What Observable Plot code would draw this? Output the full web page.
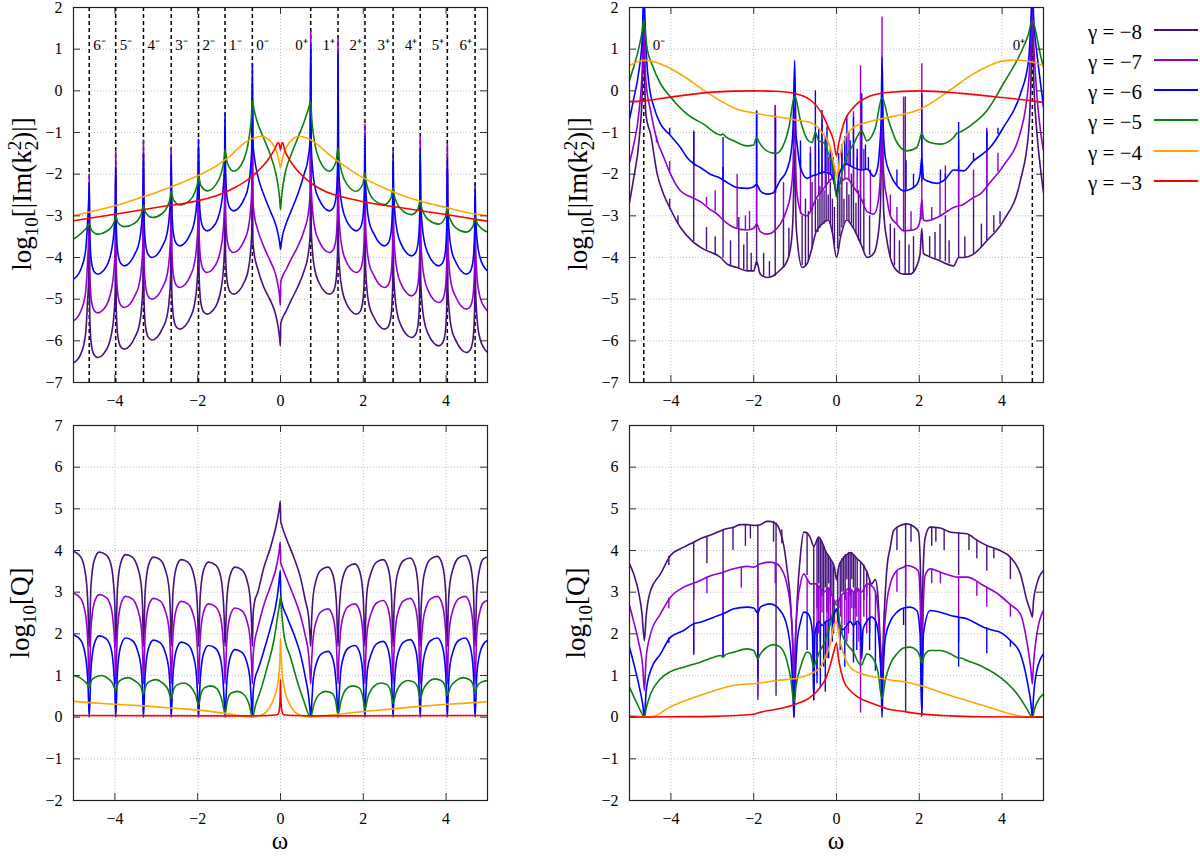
<!DOCTYPE html>
<html><head><meta charset="utf-8">
<script src="https://cdn.jsdelivr.net/npm/d3@7"></script>
<script src="https://cdn.jsdelivr.net/npm/@observablehq/plot@0.6"></script>
<style>
body{margin:0;background:#fff;}
#wrap{position:relative;width:1200px;height:856px;overflow:hidden;font-family:"Liberation Serif","Times New Roman",serif;}
.pnl{position:absolute;}
</style></head><body><div id="wrap"></div>
<script>
// ---------- categories / ticks ----------
const gammas = [-8,-7,-6,-5,-4,-3];
const gammaColors = ["#47107e","#9400d3","#0000ff","#0c800c","#ffa500","#ff0000"];
const xTicks = [-4,-2,0,2,4];
const yTicksIm = [-7,-6,-5,-4,-3,-2,-1,0,1,2];
const yTicksQ = [-2,-1,0,1,2,3,4,5,6,7];
const tlRes = [-4.62,-3.98,-3.31,-2.64,-1.98,-1.34,-0.68,0.73,1.39,2.04,2.72,3.375,4.03,4.70];
const tlResLabels = ["6⁻","5⁻","4⁻","3⁻","2⁻","1⁻","0⁻","0⁺","1⁺","2⁺","3⁺","4⁺","5⁺","6⁺"];
const trRes = [-4.655,4.73];
const trResLabels = ["0⁻","0⁺"];
const resLabelY = 1.1;

// ---------- top-left: log10|Im k2| ----------
const tl_m8 = [[-5,-6.53],[-4.83,-6.33],[-4.71,-5.85],[-4.66,-5.05],[-4.632,-4.4],[-4.62,-2.6],
[-4.608,-5.4],[-4.57,-6.08],[-4.5,-6.34],[-4.41,-6.4],[-4.28,-6.32],[-4.16,-6.12],[-4.08,-5.82],[-4.025,-5.4],[-3.992,-4.8],[-3.98,-2.1],
[-3.968,-5.2],[-3.93,-5.88],[-3.86,-6.14],[-3.77,-6.2],[-3.64,-6.12],[-3.52,-5.92],[-3.41,-5.62],[-3.355,-5.2],[-3.322,-4.6],[-3.31,-1.9],
[-3.298,-4.98],[-3.26,-5.66],[-3.19,-5.92],[-3.1,-5.98],[-2.97,-5.9],[-2.85,-5.7],[-2.74,-5.4],[-2.685,-4.98],[-2.652,-4.38],[-2.64,-1.9],
[-2.628,-4.72],[-2.59,-5.4],[-2.52,-5.66],[-2.43,-5.72],[-2.3,-5.64],[-2.18,-5.44],[-2.08,-5.14],[-2.025,-4.72],[-1.992,-4.12],[-1.98,-1.7],
[-1.968,-4.36],[-1.93,-5.04],[-1.86,-5.3],[-1.77,-5.36],[-1.64,-5.28],[-1.52,-5.08],[-1.44,-4.78],[-1.385,-4.36],[-1.352,-3.76],[-1.34,-1.2],
[-1.328,-3.88],[-1.29,-4.56],[-1.22,-4.82],[-1.13,-4.88],[-1.0,-4.8],[-0.88,-4.6],[-0.78,-4.3],[-0.725,-3.88],[-0.692,-3.28],[-0.68,-0.2],
[-0.668,-3.6],[-0.63,-3.95],[-0.56,-4.24],[-0.4,-4.72],[-0.24,-5.04],[-0.12,-5.36],[-0.055,-5.68],[-0.02,-5.95],[-0.003,-6.12],[0.005,-5.6],[0.03,-5.5],[0.13,-5.3],[0.25,-5.04],[0.41,-4.72],[0.57,-4.32],[0.67,-3.92],[0.718,-3.4],[0.73,0.6],
[0.742,-3.28],[0.775,-3.88],[0.83,-4.3],[0.93,-4.6],[1.05,-4.8],[1.18,-4.88],[1.27,-4.82],[1.34,-4.56],[1.378,-3.88],[1.39,0.4],
[1.402,-3.76],[1.435,-4.36],[1.49,-4.78],[1.58,-5.08],[1.7,-5.28],[1.83,-5.36],[1.92,-5.3],[1.99,-5.04],[2.028,-4.36],[2.04,-1.5],
[2.052,-4.12],[2.085,-4.72],[2.14,-5.14],[2.26,-5.44],[2.38,-5.64],[2.51,-5.72],[2.6,-5.66],[2.67,-5.4],[2.708,-4.72],[2.72,-2.0],
[2.732,-4.32],[2.765,-4.92],[2.82,-5.34],[2.915,-5.64],[3.035,-5.84],[3.165,-5.92],[3.255,-5.86],[3.325,-5.6],[3.363,-4.92],[3.375,-1.8],
[3.387,-4.52],[3.42,-5.12],[3.475,-5.54],[3.57,-5.84],[3.69,-6.04],[3.82,-6.12],[3.91,-6.06],[3.98,-5.8],[4.018,-5.12],[4.03,-1.9],
[4.042,-4.68],[4.075,-5.28],[4.13,-5.7],[4.24,-6.0],[4.36,-6.2],[4.49,-6.28],[4.58,-6.22],[4.65,-5.96],[4.688,-5.28],[4.7,-2.8],
[4.712,-4.7],[4.75,-5.5],[4.82,-5.95],[4.9,-6.15],[5,-6.28]];
const tl_m7 = [[-5,-5.52],[-4.83,-5.3],[-4.71,-4.85],[-4.66,-4.1],[-4.632,-3.4],[-4.62,-2.0],
[-4.608,-4.33],[-4.57,-5.01],[-4.5,-5.27],[-4.41,-5.33],[-4.28,-5.25],[-4.16,-5.05],[-4.08,-4.75],[-4.025,-4.33],[-3.992,-3.73],[-3.98,-1.46],
[-3.968,-4.2],[-3.93,-4.88],[-3.86,-5.14],[-3.77,-5.2],[-3.64,-5.12],[-3.52,-4.92],[-3.41,-4.62],[-3.355,-4.2],[-3.322,-3.6],[-3.31,-1.18],
[-3.298,-4.0],[-3.26,-4.68],[-3.19,-4.94],[-3.1,-5.0],[-2.97,-4.92],[-2.85,-4.72],[-2.74,-4.42],[-2.685,-4.0],[-2.652,-3.4],[-2.64,-1.35],
[-2.628,-3.72],[-2.59,-4.4],[-2.52,-4.66],[-2.43,-4.72],[-2.3,-4.64],[-2.18,-4.44],[-2.08,-4.14],[-2.025,-3.72],[-1.992,-3.12],[-1.98,-1.4],
[-1.968,-3.36],[-1.93,-4.04],[-1.86,-4.3],[-1.77,-4.36],[-1.64,-4.28],[-1.52,-4.08],[-1.44,-3.78],[-1.385,-3.36],[-1.352,-2.76],[-1.34,-0.9],
[-1.328,-2.88],[-1.29,-3.56],[-1.22,-3.82],[-1.13,-3.88],[-1.0,-3.8],[-0.88,-3.6],[-0.78,-3.3],[-0.725,-2.88],[-0.692,-2.28],[-0.68,0.2],
[-0.668,-2.6],[-0.63,-3.0],[-0.56,-3.3],[-0.4,-3.75],[-0.24,-4.1],[-0.12,-4.4],[-0.055,-4.7],[-0.02,-4.95],[-0.003,-5.15],[0.005,-4.6],[0.03,-4.5],[0.13,-4.3],[0.25,-4.05],[0.41,-3.75],[0.57,-3.35],[0.67,-2.95],[0.718,-2.4],[0.73,1.45],
[0.742,-2.28],[0.775,-2.88],[0.83,-3.3],[0.93,-3.6],[1.05,-3.8],[1.18,-3.88],[1.27,-3.82],[1.34,-3.56],[1.378,-2.88],[1.39,1.25],
[1.402,-2.76],[1.435,-3.36],[1.49,-3.78],[1.58,-4.08],[1.7,-4.28],[1.83,-4.36],[1.92,-4.3],[1.99,-4.04],[2.028,-3.36],[2.04,-0.8],
[2.052,-3.12],[2.085,-3.72],[2.14,-4.14],[2.26,-4.44],[2.38,-4.64],[2.51,-4.72],[2.6,-4.66],[2.67,-4.4],[2.708,-3.72],[2.72,-1.7],
[2.732,-3.32],[2.765,-3.92],[2.82,-4.34],[2.915,-4.64],[3.035,-4.84],[3.165,-4.92],[3.255,-4.86],[3.325,-4.6],[3.363,-3.92],[3.375,-1.1],
[3.387,-3.48],[3.42,-4.08],[3.475,-4.5],[3.57,-4.8],[3.69,-5.0],[3.82,-5.08],[3.91,-5.02],[3.98,-4.76],[4.018,-4.08],[4.03,-1.28],
[4.042,-3.64],[4.075,-4.24],[4.13,-4.66],[4.24,-4.96],[4.36,-5.16],[4.49,-5.24],[4.58,-5.18],[4.65,-4.92],[4.688,-4.24],[4.7,-2.5],
[4.712,-3.7],[4.75,-4.5],[4.82,-4.95],[4.9,-5.15],[5,-5.28]];
const tl_m6 = [[-5,-4.52],[-4.83,-4.3],[-4.71,-3.85],[-4.66,-3.15],[-4.632,-2.6],[-4.62,-2.2],
[-4.608,-3.4],[-4.57,-4.08],[-4.5,-4.34],[-4.41,-4.4],[-4.28,-4.32],[-4.16,-4.12],[-4.08,-3.82],[-4.025,-3.4],[-3.992,-2.8],[-3.98,-1.84],
[-3.968,-3.2],[-3.93,-3.88],[-3.86,-4.14],[-3.77,-4.2],[-3.64,-4.12],[-3.52,-3.92],[-3.41,-3.62],[-3.355,-3.2],[-3.322,-2.6],[-3.31,-1.5],
[-3.298,-3.0],[-3.26,-3.68],[-3.19,-3.94],[-3.1,-4.0],[-2.97,-3.92],[-2.85,-3.72],[-2.74,-3.42],[-2.685,-3.0],[-2.652,-2.4],[-2.64,-1.55],
[-2.628,-2.72],[-2.59,-3.4],[-2.52,-3.66],[-2.43,-3.72],[-2.3,-3.64],[-2.18,-3.44],[-2.08,-3.14],[-2.025,-2.72],[-1.992,-2.12],[-1.98,-1.15],
[-1.968,-2.36],[-1.93,-3.04],[-1.86,-3.3],[-1.77,-3.36],[-1.64,-3.28],[-1.52,-3.08],[-1.44,-2.78],[-1.385,-2.36],[-1.352,-1.76],[-1.34,-0.55],
[-1.328,-1.88],[-1.29,-2.56],[-1.22,-2.82],[-1.13,-2.88],[-1.0,-2.8],[-0.88,-2.6],[-0.78,-2.3],[-0.725,-1.88],[-0.692,-1.28],[-0.68,0.66],
[-0.668,-1.2],[-0.63,-1.6],[-0.56,-2.0],[-0.4,-2.5],[-0.24,-2.9],[-0.12,-3.2],[-0.055,-3.45],[-0.02,-3.65],[0,-3.8],[0.02,-3.65],[0.055,-3.45],[0.13,-3.2],[0.25,-2.9],[0.41,-2.5],[0.57,-2.0],[0.67,-1.6],[0.718,-1.1],[0.73,1.1],
[0.742,-1.28],[0.775,-1.88],[0.83,-2.3],[0.93,-2.6],[1.05,-2.8],[1.18,-2.88],[1.27,-2.82],[1.34,-2.56],[1.378,-1.88],[1.39,0.9],
[1.402,-1.76],[1.435,-2.36],[1.49,-2.78],[1.58,-3.08],[1.7,-3.28],[1.83,-3.36],[1.92,-3.3],[1.99,-3.04],[2.028,-2.36],[2.04,-1.1],
[2.052,-2.12],[2.085,-2.72],[2.14,-3.14],[2.26,-3.44],[2.38,-3.64],[2.51,-3.72],[2.6,-3.66],[2.67,-3.4],[2.708,-2.72],[2.72,-1.44],
[2.732,-2.36],[2.765,-2.96],[2.82,-3.38],[2.915,-3.68],[3.035,-3.88],[3.165,-3.96],[3.255,-3.9],[3.325,-3.64],[3.363,-2.96],[3.375,-1.4],
[3.387,-2.6],[3.42,-3.2],[3.475,-3.62],[3.57,-3.92],[3.69,-4.12],[3.82,-4.2],[3.91,-4.14],[3.98,-3.88],[4.018,-3.2],[4.03,-1.6],
[4.042,-2.8],[4.075,-3.4],[4.13,-3.82],[4.24,-4.12],[4.36,-4.32],[4.49,-4.4],[4.58,-4.34],[4.65,-4.08],[4.688,-3.4],[4.7,-2.24],
[4.712,-2.9],[4.75,-3.6],[4.82,-4.0],[4.9,-4.2],[5,-4.32]];
const tl_m5 = [[-5,-3.56],[-4.85,-3.45],[-4.72,-3.33],[-4.65,-3.24],[-4.62,-3.19],
[-4.57,-3.34],[-4.41,-3.44],[-4.2,-3.37],[-4.065,-3.24],[-4.005,-3.11],[-3.98,-3.0],
[-3.93,-3.16],[-3.77,-3.26],[-3.53,-3.18],[-3.395,-3.03],[-3.335,-2.87],[-3.31,-2.74],
[-3.26,-2.92],[-3.1,-3.04],[-2.86,-2.95],[-2.725,-2.76],[-2.665,-2.58],[-2.64,-2.42],
[-2.59,-2.61],[-2.43,-2.74],[-2.2,-2.64],[-2.065,-2.43],[-2.005,-2.22],[-1.98,-2.04],
[-1.93,-2.26],[-1.77,-2.4],[-1.56,-2.25],[-1.425,-1.95],[-1.365,-1.66],[-1.34,-1.41],
[-1.29,-1.72],[-1.13,-1.93],[-0.9,-1.68],[-0.765,-1.16],[-0.705,-0.66],[-0.68,-0.23],
[-0.64,-0.45],[-0.56,-0.75],[-0.4,-1.15],[-0.24,-1.55],[-0.12,-1.95],[-0.055,-2.3],[-0.02,-2.6],[0,-2.85],[0.02,-2.6],[0.055,-2.3],[0.13,-1.9],[0.25,-1.55],[0.41,-1.15],[0.57,-0.75],[0.67,-0.45],[0.73,-0.26],
[0.755,-0.68],[0.815,-1.18],[0.95,-1.68],[1.18,-1.93],[1.34,-1.71],[1.39,-1.37],
[1.415,-1.63],[1.475,-1.94],[1.61,-2.25],[1.83,-2.41],[1.99,-2.23],[2.04,-1.97],
[2.065,-2.16],[2.125,-2.39],[2.26,-2.62],[2.51,-2.73],[2.67,-2.57],[2.72,-2.33],
[2.745,-2.49],[2.805,-2.68],[2.94,-2.87],[3.165,-2.97],[3.325,-2.83],[3.375,-2.62],
[3.4,-2.77],[3.46,-2.94],[3.595,-3.11],[3.82,-3.2],[3.98,-3.04],[4.03,-2.8],
[4.055,-2.95],[4.115,-3.12],[4.25,-3.3],[4.49,-3.39],[4.65,-3.25],[4.7,-3.04],
[4.75,-3.18],[4.85,-3.3],[5,-3.39]];
const tl_m4 = [[-5,-3.0],[-4.5,-2.88],[-4,-2.76],[-3.5,-2.6],[-3,-2.44],[-2.5,-2.25],[-2,-2.04],[-1.5,-1.77],[-1.2,-1.55],[-1,-1.36],[-0.8,-1.2],[-0.6,-1.12],[-0.45,-1.09],[-0.3,-1.16],[-0.2,-1.26],[-0.12,-1.4],[-0.06,-1.58],[-0.02,-1.75],[0,-1.85],[0.02,-1.75],[0.06,-1.58],[0.12,-1.4],[0.2,-1.26],[0.3,-1.16],[0.42,-1.09],[0.6,-1.12],[0.8,-1.22],[1,-1.38],[1.2,-1.55],[1.5,-1.77],[2,-2.09],[2.5,-2.33],[3,-2.53],[3.5,-2.68],[4,-2.8],[4.5,-2.92],[5,-3.0]];
const tl_m3 = [[-5,-3.12],[-4,-2.96],[-3,-2.8],[-2,-2.64],[-1.5,-2.5],[-1.1,-2.32],[-0.72,-2.08],[-0.5,-1.88],[-0.32,-1.68],[-0.2,-1.5],[-0.12,-1.36],[-0.06,-1.24],[-0.03,-1.28],[0,-1.42],[0.025,-1.28],[0.05,-1.24],[0.1,-1.42],[0.2,-1.62],[0.3,-1.78],[0.45,-1.96],[0.62,-2.12],[0.8,-2.26],[1.1,-2.42],[1.5,-2.55],[2,-2.66],[3,-2.82],[4,-2.97],[5,-3.13]];

// ---------- top-right: log10|Im k2| ----------
const tr_m8 = [[-5,-2.68],[-4.9,-2.1],[-4.77,-1.2],[-4.69,0.0],[-4.665,1.4],[-4.655,1.9],[-4.645,1.0],[-4.6,-0.6],[-4.49,-1.04],[-4.33,-2.0],[-4.17,-2.5],[-4.03,-2.8],[-3.77,-3.28],[-3.49,-3.6],[-3.21,-3.8],[-2.8,-4.0],[-2.64,-4.16],[-2.4,-4.24],[-2.16,-4.32],[-2.0,-4.32],[-1.93,-4.1],[-1.84,-4.4],[-1.68,-4.48],[-1.55,-4.45],[-1.36,-4.3],[-1.2,-4.1],[-1.1,-3.7],[-1.05,-3.0],[-1.01,-1.4],[-0.98,-3.1],[-0.95,-3.55],[-0.83,-4.24],[-0.71,-4.15],[-0.6,-3.8],[-0.5,-3.4],[-0.35,-3.2],[-0.2,-3.1],[-0.1,-3.4],[0,-4.0],[0.1,-3.5],[0.25,-3.1],[0.41,-3.3],[0.6,-3.7],[0.74,-4.0],[0.9,-3.9],[1.0,-3.5],[1.06,-2.8],[1.1,-1.0],[1.14,-2.9],[1.22,-3.6],[1.3,-4.0],[1.46,-4.32],[1.62,-4.4],[1.78,-4.4],[1.94,-4.2],[2.02,-3.9],[2.06,-3.3],[2.1,-3.9],[2.18,-3.95],[2.43,-4.05],[2.83,-4.2],[2.95,-4.0],[3.07,-4.0],[3.31,-3.92],[3.63,-3.6],[4.03,-3.12],[4.44,-2.16],[4.64,-1.0],[4.7,0.4],[4.73,1.9],[4.76,0.4],[4.84,-1.0],[4.92,-1.8],[5,-2.44]];
const tr_m8_spk = [[-4.03,-2.85,-2.6],[-3.83,-3.2,-3.0],[-3.45,-3.62,-1.0],[-3.14,-3.82,-3.28],[-2.93,-3.95,-3.5],[-2.74,-4.02,-1.84],[-2.56,-4.2,-3.6],[-2.36,-4.25,-3.04],[-2.24,-4.3,-3.7],[-2.16,-4.32,-3.4],[-2.06,-4.32,-3.9],[-1.93,-4.2,-0.5],[-1.76,-4.45,-3.9],[-1.62,-4.47,-4.1],[-1.48,-4.45,-0.35],[-1.28,-4.25,-3.0],[-1.15,-4.0,-3.3],[-0.83,-4.2,-3.0],[-0.75,-4.2,-2.6],[-0.68,-4.1,-2.9],[-0.59,-3.8,-2.2],[-0.51,-3.4,-2.0],[-0.45,-3.4,-2.6],[-0.4,-3.3,-2.3],[-0.35,-3.2,-1.8],[-0.3,-3.2,-2.4],[-0.25,-3.15,-2.0],[-0.2,-3.1,-2.5],[-0.15,-3.2,-2.2],[-0.1,-3.4,-2.6],[-0.05,-3.7,-2.8],[0.03,-3.8,-2.5],[0.08,-3.5,-2.3],[0.13,-3.3,-2.1],[0.18,-3.2,-2.6],[0.25,-3.1,-2.2],[0.3,-3.15,-2.5],[0.36,-3.2,-2.0],[0.41,-3.3,-1.9],[0.47,-3.45,-2.7],[0.53,-3.6,-2.4],[0.58,-3.7,-1.0],[0.66,-3.85,-2.6],[0.8,-3.95,-3.0],[1.3,-4.0,-3.2],[1.4,-4.2,-3.3],[1.52,-4.35,-3.6],[1.66,-4.4,-0.15],[1.75,-4.4,-3.7],[1.86,-4.35,-3.5],[2.25,-3.98,-3.5],[2.38,-4.03,-3.4],[2.5,-4.06,-3.2],[2.63,-4.1,-3.0],[2.72,-4.15,-3.6],[2.95,-4.0,-1.8],[3.1,-4.0,-3.5],[3.31,-3.92,-2.6],[3.5,-3.75,-3.2],[3.63,-3.6,-1.0],[3.8,-3.4,-3.0],[3.95,-3.2,-2.9]];
const tr_m7 = [[-5,-1.72],[-4.9,-1.3],[-4.77,-0.5],[-4.69,0.6],[-4.665,1.6],[-4.655,2.0],[-4.645,1.4],[-4.6,0.2],[-4.49,-0.48],[-4.33,-1.2],[-4.17,-1.6],[-4.03,-1.95],[-3.77,-2.4],[-3.49,-2.56],[-3.29,-2.66],[-3.05,-2.85],[-2.88,-2.96],[-2.8,-3.04],[-2.64,-3.18],[-2.48,-3.28],[-2.16,-3.34],[-2.0,-3.3],[-1.93,-3.2],[-1.84,-3.38],[-1.68,-3.44],[-1.55,-3.4],[-1.36,-3.2],[-1.2,-2.85],[-1.1,-2.4],[-1.05,-1.8],[-1.01,-0.4],[-0.98,-2.0],[-0.95,-2.5],[-0.83,-2.96],[-0.71,-3.0],[-0.63,-2.9],[-0.5,-2.6],[-0.35,-2.4],[-0.2,-2.2],[-0.1,-2.1],[0,-2.4],[0.1,-2.2],[0.25,-2.1],[0.41,-2.3],[0.6,-2.6],[0.74,-2.9],[0.9,-2.96],[1.0,-2.7],[1.06,-2.0],[1.1,-0.6],[1.14,-2.0],[1.22,-2.6],[1.3,-3.0],[1.46,-3.2],[1.62,-3.36],[1.78,-3.35],[1.94,-3.3],[2.02,-3.1],[2.06,-2.6],[2.1,-3.1],[2.18,-3.12],[2.43,-3.04],[2.83,-2.8],[3.07,-2.72],[3.31,-2.56],[3.47,-2.48],[3.71,-2.2],[4.03,-1.8],[4.44,-1.0],[4.64,0.2],[4.7,1.2],[4.73,2.0],[4.76,1.2],[4.84,-0.1],[4.92,-0.9],[5,-1.44]];
const tr_m7_spk = [[-4.35,-1.25,-1.1],[-4.03,-1.95,-1.7],[-3.45,-2.56,-0.96],[-3.14,-2.75,-2.56],[-2.93,-2.9,-2.4],[-2.74,-3.1,-1.84],[-2.4,-3.3,-2.0],[-2.2,-3.34,-3.0],[-2.1,-3.33,-2.9],[-1.93,-3.25,-0.5],[-1.48,-3.42,-0.39],[-1.28,-3.05,-2.2],[-0.87,-2.97,-1.6],[-0.63,-2.9,-1.35],[-0.51,-2.6,-1.0],[-0.43,-2.5,-1.4],[-0.35,-2.4,-0.7],[-0.27,-2.3,-1.2],[-0.19,-2.2,-1.6],[-0.11,-2.1,-1.5],[-0.05,-2.2,-1.8],[0.05,-2.3,-1.9],[0.13,-2.15,-1.5],[0.2,-2.1,-1.3],[0.3,-2.15,-1.0],[0.41,-2.3,-0.5],[0.5,-2.45,-1.6],[0.58,-2.6,0.6],[0.66,-2.75,-1.4],[0.82,-2.95,-1.9],[1.1,-2.0,1.77],[1.3,-3.0,-2.5],[1.46,-3.2,-2.8],[1.62,-3.36,-0.15],[1.8,-3.35,-2.9],[2.06,-3.1,0.65],[2.3,-3.1,-2.8],[2.5,-3.0,-2.2],[2.63,-2.9,-1.8],[2.95,-2.76,-1.2],[3.31,-2.56,-1.9],[3.63,-2.3,-0.9],[3.9,-1.95,-1.5]];
const tr_m6 = [[-5,-0.68],[-4.9,-0.2],[-4.77,0.5],[-4.69,1.3],[-4.665,2.3],[-4.655,2.6],[-4.645,2.3],[-4.6,1.0],[-4.53,0.17],[-4.41,-0.39],[-4.25,-0.8],[-4.03,-1.05],[-3.77,-1.36],[-3.61,-1.6],[-3.45,-1.75],[-3.29,-1.84],[-3.05,-2.0],[-2.84,-2.08],[-2.64,-2.2],[-2.4,-2.32],[-2.16,-2.34],[-2.0,-2.3],[-1.93,-2.25],[-1.84,-2.4],[-1.68,-2.48],[-1.55,-2.46],[-1.36,-2.15],[-1.2,-1.9],[-1.1,-1.5],[-1.05,-0.9],[-1.01,0.73],[-0.98,-1.0],[-0.95,-1.3],[-0.87,-1.84],[-0.71,-2.1],[-0.6,-2.05],[-0.45,-2.0],[-0.3,-1.95],[-0.15,-2.0],[-0.05,-2.2],[0,-2.5],[0.05,-2.1],[0.13,-1.85],[0.25,-1.76],[0.41,-1.84],[0.6,-1.9],[0.74,-1.88],[0.9,-2.05],[0.98,-1.9],[1.04,-1.4],[1.08,-0.6],[1.1,0.81],[1.13,-0.9],[1.18,-1.6],[1.3,-2.0],[1.46,-2.28],[1.62,-2.4],[1.78,-2.36],[1.94,-2.25],[2.02,-2.0],[2.06,-1.6],[2.1,-2.1],[2.18,-2.16],[2.43,-2.22],[2.63,-2.12],[2.83,-1.9],[3.07,-1.92],[3.31,-1.68],[3.55,-1.5],[3.71,-1.36],[4.03,-0.88],[4.44,-0.08],[4.64,0.73],[4.7,1.8],[4.73,2.6],[4.76,1.8],[4.84,0.9],[4.88,0.57],[5,-0.4]];
const tr_m6_spk = [[-4.03,-1.05,-0.9],[-3.45,-1.75,-1.0],[-2.74,-2.12,-1.12],[-1.93,-2.3,-0.48],[-1.47,-2.46,-0.6],[-0.87,-1.9,-1.2],[-0.63,-2.1,-1.5],[-0.51,-2.05,0.0],[-0.43,-2.0,-0.9],[-0.35,-2.0,-0.47],[-0.27,-1.95,-1.1],[-0.23,-1.95,-0.87],[-0.15,-2.0,-1.4],[-0.08,-2.1,-1.6],[0.05,-2.0,-1.5],[0.13,-1.85,-1.3],[0.2,-1.8,-1.1],[0.25,-1.76,-0.6],[0.33,-1.8,-1.2],[0.41,-1.84,-0.63],[0.5,-1.88,-1.4],[0.61,-1.9,-0.07],[0.7,-1.9,-1.3],[0.77,-1.92,-1.6],[1.46,-2.28,-1.9],[1.68,-2.38,-1.68],[1.86,-2.35,-2.0],[2.06,-2.18,-0.08],[2.51,-2.2,-1.9],[2.63,-2.15,-2.0],[2.95,-1.9,-0.76],[3.31,-1.68,-1.5],[3.63,-1.45,-0.96],[3.9,-1.05,-0.9]];
const tr_m5 = [[-5,0.25],[-4.9,0.57],[-4.77,1.05],[-4.69,1.45],[-4.655,1.7],[-4.61,1.3],[-4.57,1.0],[-4.45,0.62],[-4.25,0.17],[-4.01,-0.15],[-3.61,-0.56],[-3.21,-0.8],[-2.8,-1.06],[-2.74,-1.04],[-2.68,-1.1],[-2.48,-1.2],[-2.16,-1.32],[-2.0,-1.3],[-1.93,-1.12],[-1.86,-1.25],[-1.6,-1.48],[-1.44,-1.5],[-1.36,-1.44],[-1.15,-0.88],[-1.01,-0.12],[-0.87,-0.72],[-0.71,-1.16],[-0.59,-1.24],[-0.51,-1.0],[-0.43,-1.2],[-0.31,-1.24],[-0.19,-1.52],[-0.07,-1.92],[0.0,-2.56],[0.09,-2.16],[0.21,-1.68],[0.41,-1.28],[0.61,-0.96],[0.73,-1.2],[0.94,-0.88],[1.1,-0.16],[1.26,-0.72],[1.46,-1.24],[1.7,-1.44],[1.94,-1.36],[2.0,-1.2],[2.06,-1.02],[2.12,-1.15],[2.26,-1.24],[2.51,-1.28],[2.83,-1.12],[2.9,-1.02],[2.95,-1.0],[3.0,-0.98],[3.23,-0.84],[3.63,-0.48],[4.03,0.17],[4.44,0.89],[4.64,1.37],[4.73,1.7],[4.84,1.29],[4.92,0.89],[5,0.57]];
const tr_m4 = [[-5,0.61],[-4.8,0.7],[-4.61,0.73],[-4.41,0.7],[-4,0.53],[-3.6,0.29],[-3.2,0.01],[-2.8,-0.24],[-2.4,-0.44],[-2,-0.53],[-1.6,-0.6],[-1.2,-0.66],[-0.87,-0.72],[-0.63,-0.76],[-0.45,-0.88],[-0.35,-1.0],[-0.15,-1.36],[-0.03,-1.92],[0.01,-2.08],[0.09,-1.52],[0.21,-1.12],[0.41,-0.88],[0.73,-0.76],[1.14,-0.66],[1.54,-0.58],[2.02,-0.44],[2.43,-0.2],[2.83,0.08],[3.23,0.36],[3.63,0.58],[4.03,0.72],[4.36,0.74],[4.72,0.69],[5,0.61]];
const tr_m3 = [[-5,-0.26],[-4.65,-0.24],[-4,-0.15],[-3,-0.03],[-2,0.0],[-1.5,-0.01],[-1.03,-0.06],[-0.63,-0.22],[-0.35,-0.55],[-0.2,-0.87],[-0.07,-1.2],[0,-1.56],[0.05,-1.28],[0.17,-0.8],[0.41,-0.4],[0.73,-0.16],[1.22,-0.04],[2,0.0],[3,-0.06],[4,-0.16],[4.72,-0.24],[5,-0.28]];

// ---------- bottom-left: log10 Q ----------
const bl_m8 = [[-5,3.98],[-4.82,3.84],[-4.7,3.36],[-4.65,2.64],[-4.62,1.7],
[-4.58,3.12],[-4.5,3.76],[-4.38,3.96],[-4.22,3.9],[-4.1,3.68],[-4.04,3.28],[-4.0,2.64],[-3.98,1.7],
[-3.94,3.06],[-3.86,3.7],[-3.74,3.9],[-3.58,3.84],[-3.46,3.62],[-3.37,3.22],[-3.33,2.58],[-3.31,1.7],
[-3.27,3.0],[-3.19,3.64],[-3.07,3.84],[-2.91,3.78],[-2.79,3.56],[-2.7,3.16],[-2.66,2.52],[-2.64,1.7],
[-2.6,2.94],[-2.52,3.58],[-2.4,3.78],[-2.24,3.72],[-2.12,3.5],[-2.04,3.1],[-2.0,2.46],[-1.98,1.7],
[-1.94,2.88],[-1.86,3.52],[-1.74,3.72],[-1.58,3.66],[-1.46,3.44],[-1.4,3.04],[-1.36,2.4],[-1.34,1.7],
[-1.3,2.76],[-1.22,3.4],[-1.1,3.6],[-0.94,3.54],[-0.82,3.32],[-0.74,2.92],[-0.7,2.28],[-0.68,1.7],
[-0.66,2.5],[-0.62,2.8],[-0.56,2.96],[-0.4,3.6],[-0.24,4.08],[-0.08,4.72],[-0.03,5.0],[-0.005,5.18],[0.005,4.7],[0.02,4.64],[0.16,4.24],[0.32,3.84],[0.48,3.36],[0.6,2.8],[0.68,2.4],[0.71,2.0],[0.73,1.7],
[0.75,2.28],[0.79,2.92],[0.87,3.32],[0.99,3.54],[1.15,3.6],[1.27,3.4],[1.35,2.76],[1.39,1.7],
[1.41,2.36],[1.45,3.0],[1.52,3.4],[1.64,3.62],[1.8,3.68],[1.92,3.48],[2.0,2.84],[2.04,1.7],
[2.06,2.46],[2.1,3.1],[2.2,3.5],[2.32,3.72],[2.48,3.78],[2.6,3.58],[2.68,2.94],[2.72,1.7],
[2.74,2.5],[2.78,3.14],[2.855,3.54],[2.975,3.76],[3.135,3.82],[3.255,3.62],[3.335,2.98],[3.375,1.7],
[3.395,2.54],[3.435,3.18],[3.51,3.58],[3.63,3.8],[3.79,3.86],[3.91,3.66],[3.99,3.02],[4.03,1.7],
[4.05,2.56],[4.09,3.2],[4.18,3.6],[4.3,3.82],[4.46,3.88],[4.58,3.68],[4.66,3.04],[4.7,1.7],
[4.74,3.0],[4.82,3.6],[4.9,3.8],[5,3.84]];
const bl_m7 = [[-5,2.98],[-4.82,2.84],[-4.7,2.4],[-4.65,1.7],[-4.62,0.8],
[-4.58,2.1],[-4.5,2.74],[-4.38,2.94],[-4.22,2.88],[-4.1,2.66],[-4.04,2.26],[-4.0,1.62],[-3.98,0.8],
[-3.94,2.06],[-3.86,2.7],[-3.74,2.9],[-3.58,2.84],[-3.46,2.62],[-3.37,2.22],[-3.33,1.58],[-3.31,0.8],
[-3.27,2.01],[-3.19,2.65],[-3.07,2.85],[-2.91,2.79],[-2.79,2.57],[-2.7,2.17],[-2.66,1.53],[-2.64,0.8],
[-2.6,1.94],[-2.52,2.58],[-2.4,2.78],[-2.24,2.72],[-2.12,2.5],[-2.04,2.1],[-2.0,1.46],[-1.98,0.8],
[-1.94,1.88],[-1.86,2.52],[-1.74,2.72],[-1.58,2.66],[-1.46,2.44],[-1.4,2.04],[-1.36,1.4],[-1.34,0.8],
[-1.3,1.78],[-1.22,2.42],[-1.1,2.62],[-0.94,2.56],[-0.82,2.34],[-0.74,1.94],[-0.7,1.3],[-0.68,0.8],
[-0.66,1.5],[-0.62,1.85],[-0.56,2.1],[-0.4,2.7],[-0.24,3.15],[-0.08,3.7],[-0.03,4.0],[-0.005,4.2],[0.005,3.7],[0.02,3.66],[0.16,3.3],[0.32,2.9],[0.48,2.45],[0.6,1.95],[0.68,1.5],[0.71,1.1],[0.73,0.8],
[0.75,1.28],[0.79,1.92],[0.87,2.32],[0.99,2.54],[1.15,2.6],[1.27,2.4],[1.35,1.76],[1.39,0.8],
[1.41,1.4],[1.45,2.04],[1.52,2.44],[1.64,2.66],[1.8,2.72],[1.92,2.52],[2.0,1.88],[2.04,0.8],
[2.06,1.48],[2.1,2.12],[2.2,2.52],[2.32,2.74],[2.48,2.8],[2.6,2.6],[2.68,1.96],[2.72,0.8],
[2.74,1.53],[2.78,2.17],[2.855,2.57],[2.975,2.79],[3.135,2.85],[3.255,2.65],[3.335,2.01],[3.375,0.8],
[3.395,1.58],[3.435,2.22],[3.51,2.62],[3.63,2.84],[3.79,2.9],[3.91,2.7],[3.99,2.06],[4.03,0.8],
[4.05,1.58],[4.09,2.22],[4.18,2.62],[4.3,2.84],[4.46,2.9],[4.58,2.7],[4.66,2.06],[4.7,0.8],
[4.74,2.0],[4.82,2.55],[4.9,2.75],[5,2.8]];
const bl_m6 = [[-5,1.98],[-4.82,1.84],[-4.7,1.4],[-4.65,0.8],[-4.62,0],
[-4.58,1.11],[-4.5,1.75],[-4.38,1.95],[-4.22,1.89],[-4.1,1.67],[-4.04,1.27],[-4.0,0.63],[-3.98,0],
[-3.94,1.06],[-3.86,1.7],[-3.74,1.9],[-3.58,1.84],[-3.46,1.62],[-3.37,1.22],[-3.33,0.58],[-3.31,0],
[-3.27,1.01],[-3.19,1.65],[-3.07,1.85],[-2.91,1.79],[-2.79,1.57],[-2.7,1.17],[-2.66,0.53],[-2.64,0],
[-2.6,0.96],[-2.52,1.6],[-2.4,1.8],[-2.24,1.74],[-2.12,1.52],[-2.04,1.12],[-2.0,0.48],[-1.98,0],
[-1.94,0.88],[-1.86,1.52],[-1.74,1.72],[-1.58,1.66],[-1.46,1.44],[-1.4,1.04],[-1.36,0.4],[-1.34,0],
[-1.3,0.78],[-1.22,1.42],[-1.1,1.62],[-0.94,1.56],[-0.82,1.34],[-0.74,0.94],[-0.7,0.3],[-0.68,0],
[-0.66,0.6],[-0.6,1.0],[-0.56,1.1],[-0.4,1.6],[-0.24,2.16],[-0.08,2.88],[-0.03,3.3],[-0.005,3.52],[0.005,3.0],[0.02,2.8],[0.16,2.4],[0.32,2.0],[0.48,1.52],[0.6,0.96],[0.68,0.5],[0.71,0.2],[0.73,0],
[0.75,0.26],[0.79,0.9],[0.87,1.3],[0.99,1.52],[1.15,1.58],[1.27,1.38],[1.35,0.74],[1.39,0],
[1.41,0.4],[1.45,1.04],[1.52,1.44],[1.64,1.66],[1.8,1.72],[1.92,1.52],[2.0,0.88],[2.04,0],
[2.06,0.5],[2.1,1.14],[2.2,1.54],[2.32,1.76],[2.48,1.82],[2.6,1.62],[2.68,0.98],[2.72,0],
[2.74,0.54],[2.78,1.18],[2.855,1.58],[2.975,1.8],[3.135,1.86],[3.255,1.66],[3.335,1.02],[3.375,0],
[3.395,0.58],[3.435,1.22],[3.51,1.62],[3.63,1.84],[3.79,1.9],[3.91,1.7],[3.99,1.06],[4.03,0],
[4.05,0.58],[4.09,1.22],[4.18,1.62],[4.3,1.84],[4.46,1.9],[4.58,1.7],[4.66,1.06],[4.7,0],
[4.74,1.0],[4.82,1.55],[4.9,1.75],[5,1.84]];
const bl_m5 = [[-5,1.0],[-4.85,0.95],[-4.72,0.85],[-4.65,0.77],[-4.62,0.72],
[-4.56,0.89],[-4.47,0.96],[-4.32,1.0],[-4.17,0.93],[-4.05,0.8],[-3.98,0.64],
[-3.92,0.83],[-3.83,0.91],[-3.68,0.95],[-3.53,0.88],[-3.38,0.74],[-3.31,0.56],
[-3.25,0.76],[-3.16,0.86],[-3.01,0.9],[-2.86,0.83],[-2.71,0.65],[-2.64,0.44],
[-2.58,0.67],[-2.49,0.78],[-2.34,0.82],[-2.19,0.75],[-2.05,0.53],[-1.98,0.3],
[-1.92,0.57],[-1.83,0.71],[-1.68,0.75],[-1.53,0.68],[-1.41,0.39],[-1.34,0.1],
[-1.28,0.41],[-1.19,0.58],[-1.04,0.62],[-0.89,0.55],[-0.75,0.28],[-0.68,0.0],
[-0.6,0.3],[-0.48,0.64],[-0.32,1.2],[-0.16,1.84],[-0.06,2.48],[-0.01,2.8],[0,2.88],[0.01,2.75],[0.08,2.0],[0.24,1.44],[0.4,0.88],[0.56,0.4],[0.73,0.0],
[0.8,0.28],[0.94,0.55],[1.09,0.62],[1.24,0.58],[1.33,0.4],[1.39,0.07],
[1.46,0.38],[1.59,0.68],[1.74,0.75],[1.89,0.71],[1.98,0.53],[2.04,0.2],
[2.11,0.48],[2.27,0.75],[2.42,0.82],[2.57,0.78],[2.66,0.62],[2.72,0.33],
[2.79,0.58],[2.925,0.81],[3.075,0.88],[3.225,0.84],[3.315,0.71],[3.375,0.45],
[3.445,0.66],[3.58,0.85],[3.73,0.92],[3.88,0.88],[3.97,0.76],[4.03,0.52],
[4.1,0.71],[4.25,0.88],[4.4,0.95],[4.55,0.91],[4.64,0.81],[4.7,0.6],
[4.76,0.76],[4.85,0.84],[5,0.88]];
const bl_m4 = [[-5,0.38],[-4.62,0.35],[-4,0.31],[-3.31,0.27],[-2.64,0.22],[-1.98,0.17],[-1.34,0.09],[-1.0,0.04],[-0.68,0.0],[-0.5,0.04],[-0.35,0.12],[-0.2,0.35],[-0.1,0.65],[-0.04,1.0],[-0.01,1.5],[0,1.9],[0.01,1.6],[0.04,1.05],[0.1,0.65],[0.2,0.35],[0.35,0.12],[0.5,0.04],[0.73,0.0],[1.0,0.03],[1.39,0.07],[2.04,0.14],[2.72,0.2],[3.375,0.26],[4.03,0.31],[4.7,0.35],[5,0.37]];
const bl_m3 = [[-5,0.04],[-1,0.03],[-0.3,0.04],[-0.08,0.06],[-0.04,0.12],[-0.02,0.25],[-0.008,0.5],[0,0.9],[0.008,0.5],[0.02,0.25],[0.04,0.12],[0.08,0.06],[0.3,0.04],[1,0.03],[5,0.04]];

// ---------- bottom-right: log10 Q ----------
const br_m8 = [[-5,3.68],[-4.9,3.44],[-4.78,3.0],[-4.7,2.5],[-4.64,1.84],[-4.6,2.4],[-4.49,3.04],[-4.25,3.44],[-4.01,3.88],[-3.69,4.08],[-3.45,4.2],[-3.29,4.28],[-2.96,4.4],[-2.74,4.5],[-2.48,4.56],[-2.32,4.62],[-2.16,4.62],[-2.0,4.6],[-1.84,4.62],[-1.68,4.7],[-1.6,4.7],[-1.44,4.62],[-1.36,4.45],[-1.27,4.1],[-1.2,3.6],[-1.1,2.6],[-1.05,1.5],[-1.03,0.0],[-1.0,1.5],[-0.95,2.8],[-0.87,3.9],[-0.79,4.44],[-0.71,4.42],[-0.63,4.3],[-0.55,4.1],[-0.43,4.32],[-0.35,4.2],[-0.27,4.0],[-0.15,3.8],[-0.05,3.6],[0,3.3],[0.05,3.6],[0.15,3.8],[0.25,3.9],[0.33,3.95],[0.41,3.9],[0.5,3.8],[0.61,3.7],[0.73,3.5],[0.85,3.2],[0.94,3.3],[1.0,2.9],[1.06,1.8],[1.1,1.2],[1.14,2.2],[1.22,3.6],[1.3,4.08],[1.38,4.48],[1.54,4.6],[1.7,4.64],[1.86,4.58],[1.98,4.45],[2.04,3.0],[2.06,0.2],[2.08,3.0],[2.14,4.3],[2.26,4.56],[2.51,4.54],[2.75,4.44],[2.95,4.42],[3.15,4.4],[3.39,4.25],[3.63,4.12],[3.95,4.0],[4.2,3.84],[4.44,3.44],[4.6,2.8],[4.7,2.5],[4.73,2.4],[4.76,2.8],[4.84,3.2],[5,3.52]];
const br_m8_dip = [[-4.05,3.86,3.64],[-3.45,4.2,2.8],[-3.13,4.34,3.68],[-2.74,4.5,2.48],[-2.5,4.56,4.0],[-2.2,4.62,4.1],[-2.08,4.6,4.28],[-1.9,4.58,0.48],[-1.52,4.7,4.2],[-1.46,4.66,0.5],[-1.32,4.5,4.16],[-0.71,4.42,3.4],[-0.55,4.1,0.56],[-0.47,4.25,2.6],[-0.43,4.3,3.2],[-0.39,4.25,1.8],[-0.35,4.2,2.9],[-0.31,4.1,3.0],[-0.27,4.0,3.1],[-0.23,3.9,2.5],[-0.19,3.85,3.2],[-0.15,3.8,2.7],[-0.11,3.7,2.9],[-0.07,3.6,2.0],[0.03,3.5,2.2],[0.09,3.7,2.6],[0.13,3.8,3.0],[0.17,3.85,3.0],[0.21,3.9,2.8],[0.25,3.9,3.3],[0.29,3.95,2.4],[0.33,3.95,2.9],[0.37,3.95,3.3],[0.41,3.9,3.1],[0.45,3.85,2.6],[0.5,3.8,3.0],[0.58,3.7,1.2],[0.66,3.65,2.8],[0.73,3.5,2.9],[0.8,3.3,2.2],[1.46,4.55,4.0],[1.67,4.64,0.12],[1.8,4.62,4.2],[2.3,4.56,4.1],[2.4,4.55,4.2],[2.6,4.5,4.0],[2.95,4.42,3.4],[3.2,4.38,4.0],[3.39,4.25,3.8],[3.63,4.12,3.5],[3.8,4.05,3.8],[4.2,3.84,3.3]];
const br_m7 = [[-5,2.68],[-4.9,2.3],[-4.78,1.8],[-4.68,1.2],[-4.64,0.64],[-4.6,1.4],[-4.49,2.0],[-4.25,2.48],[-4.01,2.88],[-3.69,3.12],[-3.29,3.28],[-3.13,3.36],[-2.74,3.48],[-2.48,3.56],[-2.16,3.62],[-2.0,3.6],[-1.84,3.68],[-1.6,3.72],[-1.44,3.68],[-1.36,3.6],[-1.2,3.2],[-1.1,2.5],[-1.05,1.5],[-1.03,0.0],[-1.0,1.6],[-0.95,2.6],[-0.87,3.2],[-0.79,3.44],[-0.7,3.3],[-0.63,3.2],[-0.5,3.2],[-0.4,3.1],[-0.3,3.0],[-0.2,3.1],[-0.1,2.9],[0,2.7],[0.1,2.9],[0.2,3.0],[0.3,3.1],[0.41,3.0],[0.5,3.1],[0.6,3.0],[0.74,3.2],[0.9,3.1],[1.0,2.6],[1.06,1.5],[1.1,0.8],[1.14,1.8],[1.22,2.8],[1.3,3.2],[1.46,3.52],[1.62,3.6],[1.7,3.64],[1.86,3.6],[1.98,3.5],[2.04,2.0],[2.06,0.0],[2.08,2.0],[2.14,3.4],[2.26,3.56],[2.51,3.48],[2.75,3.4],[2.95,3.36],[3.15,3.36],[3.55,3.16],[3.95,2.92],[4.2,2.7],[4.44,2.48],[4.6,1.8],[4.7,1.1],[4.73,0.8],[4.76,1.3],[4.84,2.0],[5,2.56]];
const br_m7_dip = [[-4.05,2.86,2.6],[-3.45,3.22,1.48],[-3.13,3.36,2.96],[-2.74,3.48,1.44],[-2.3,3.6,3.1],[-1.9,3.62,0.4],[-1.48,3.7,3.2],[-0.71,3.3,2.5],[-0.55,3.2,0.4],[-0.47,3.2,1.0],[-0.43,3.15,2.0],[-0.39,3.1,1.6],[-0.35,3.05,2.5],[-0.31,3.0,2.2],[-0.23,3.1,1.4],[-0.19,3.1,2.0],[-0.15,3.1,2.3],[-0.1,2.9,1.9],[-0.05,2.8,2.2],[0.05,2.8,2.1],[0.1,2.9,2.4],[0.13,2.9,2.0],[0.2,3.0,2.2],[0.25,3.0,1.8],[0.29,3.05,2.0],[0.33,3.1,2.3],[0.37,3.05,2.6],[0.41,3.0,1.5],[0.45,3.0,2.2],[0.49,3.05,2.4],[0.54,3.05,1.8],[0.58,3.0,0.1],[0.66,3.1,2.4],[0.73,3.2,2.0],[0.8,3.15,2.0],[0.94,3.0,2.3],[1.46,3.52,3.0],[1.67,3.64,2.9],[2.3,3.55,3.2],[2.51,3.48,3.2],[2.95,3.36,1.8],[3.39,3.24,2.9],[3.63,3.1,2.64],[4.2,2.7,2.4]];
const br_m6 = [[-5,1.68],[-4.9,1.3],[-4.78,0.8],[-4.68,0.3],[-4.64,0.0],[-4.6,0.6],[-4.49,1.12],[-4.25,1.52],[-4.01,1.92],[-3.69,2.08],[-3.45,2.24],[-3.29,2.28],[-2.96,2.4],[-2.74,2.48],[-2.48,2.6],[-2.16,2.64],[-2.0,2.62],[-1.9,2.5],[-1.84,2.64],[-1.6,2.72],[-1.36,2.56],[-1.2,2.2],[-1.1,1.5],[-1.05,0.6],[-1.03,0.0],[-1.0,0.8],[-0.95,1.8],[-0.87,2.28],[-0.79,2.52],[-0.71,2.5],[-0.63,2.35],[-0.58,2.0],[-0.55,0.4],[-0.52,2.0],[-0.43,2.3],[-0.35,2.2],[-0.25,2.3],[-0.15,2.35],[-0.05,2.5],[0,2.6],[0.05,2.3],[0.15,2.1],[0.25,2.2],[0.33,2.3],[0.41,2.2],[0.5,2.3],[0.58,2.2],[0.61,1.4],[0.64,2.1],[0.73,2.3],[0.85,2.4],[0.95,2.3],[1.03,1.8],[1.08,0.8],[1.1,0.0],[1.12,0.8],[1.18,1.9],[1.3,2.3],[1.46,2.52],[1.62,2.62],[1.78,2.64],[1.94,2.56],[2.02,2.0],[2.06,0.04],[2.1,2.0],[2.26,2.56],[2.51,2.52],[2.75,2.44],[2.95,2.4],[3.15,2.36],[3.39,2.24],[3.55,2.16],[3.8,2.08],[3.95,2.04],[4.2,1.84],[4.44,1.52],[4.6,0.9],[4.7,0.3],[4.73,0.0],[4.76,0.5],[4.84,1.12],[5,1.52]];
const br_m6_dip = [[-4.05,1.9,1.76],[-3.45,2.24,1.52],[-2.74,2.48,1.44],[-1.9,2.55,0.92],[-0.71,2.5,1.6],[-0.47,2.25,0.8],[-0.39,2.2,0.7],[-0.31,2.2,1.2],[-0.27,2.3,0.6],[-0.19,2.3,1.4],[-0.1,2.4,1.8],[0.09,2.2,1.6],[0.2,2.15,1.2],[0.41,2.2,1.3],[0.49,2.25,1.6],[0.8,2.4,1.6],[0.94,2.3,1.1],[1.62,2.6,2.2],[2.95,2.4,1.2],[3.63,2.14,1.52],[4.2,1.84,1.68]];
const br_m5 = [[-5,0.72],[-4.9,0.5],[-4.78,0.25],[-4.68,0.05],[-4.64,0.0],[-4.6,0.2],[-4.49,0.56],[-4.25,0.92],[-4.0,1.1],[-3.69,1.2],[-3.29,1.32],[-2.96,1.44],[-2.8,1.48],[-2.74,1.44],[-2.68,1.5],[-2.48,1.56],[-2.16,1.64],[-2.0,1.6],[-1.94,1.48],[-1.9,1.4],[-1.85,1.5],[-1.68,1.68],[-1.52,1.74],[-1.36,1.68],[-1.2,1.36],[-1.1,0.9],[-1.03,0.36],[-0.97,0.8],[-0.87,1.2],[-0.71,1.56],[-0.63,1.52],[-0.55,1.2],[-0.51,1.3],[-0.43,1.52],[-0.27,1.84],[-0.15,2.24],[0.0,2.8],[0.09,2.16],[0.25,1.76],[0.41,1.56],[0.55,1.28],[0.61,1.26],[0.67,1.4],[0.73,1.52],[0.9,1.38],[1.0,1.1],[1.1,0.44],[1.18,0.9],[1.3,1.28],[1.46,1.52],[1.62,1.66],[1.78,1.68],[1.94,1.6],[2.02,1.45],[2.06,1.3],[2.12,1.48],[2.26,1.6],[2.51,1.6],[2.75,1.52],[2.9,1.44],[2.95,1.42],[3.0,1.42],[3.15,1.36],[3.55,1.2],[3.95,0.96],[4.36,0.56],[4.6,0.2],[4.73,0.0],[4.8,0.25],[4.9,0.45],[5,0.56]];
const br_m4 = [[-5,0.04],[-4.8,0.02],[-4.6,0.0],[-4.4,0.02],[-4.1,0.2],[-3.3,0.52],[-2.5,0.76],[-1.84,0.82],[-1.44,0.88],[-1.03,0.92],[-0.63,1.04],[-0.39,1.2],[-0.27,1.44],[-0.15,1.76],[-0.05,2.24],[0.01,2.28],[0.05,2.0],[0.17,1.52],[0.33,1.2],[0.61,1.04],[0.94,0.96],[1.38,0.88],[1.7,0.84],[2.02,0.76],[2.75,0.52],[3.55,0.28],[4.36,0.04],[4.73,0.0],[5,0.0]];
const br_m3 = [[-5,0.0],[-4,0.01],[-3,0.02],[-2,0.07],[-1.84,0.12],[-1.4,0.2],[-1.03,0.3],[-0.63,0.48],[-0.39,0.72],[-0.25,0.95],[-0.15,1.25],[-0.07,1.55],[0,1.78],[0.05,1.4],[0.17,0.88],[0.33,0.64],[0.49,0.5],[0.73,0.38],[1.0,0.28],[1.22,0.2],[1.6,0.14],[2.02,0.08],[2.75,0.03],[3.5,0.01],[5,0.0]];

// ---------- drawing ----------
const FONT = '"Liberation Serif","Times New Roman",serif';
const fmt = d => d < 0 ? "\u2212" + Math.abs(d) : String(d);
const wrap = document.getElementById("wrap");

function buildPanel(o) {
  const [mt, mr, mb, ml] = o.margin;
  const ty = 7 / ((o.height - mt - mb) / (o.yDomain[1] - o.yDomain[0]));
  const tx = 7 / ((o.width - ml - mr) / 10);
  const marks = [
    Plot.ruleX(xTicks, {x: d => d, stroke: "#b8b8b8", strokeWidth: 0.9, strokeDasharray: "1,2"}),
    Plot.ruleY(o.yTicks.slice(1, -1), {y: d => d, stroke: "#b8b8b8", strokeWidth: 0.9, strokeDasharray: "1,2"})
  ];
  if (o.res) marks.push(Plot.ruleX(o.res, {x: d => d, stroke: "#000", strokeWidth: 1.5, strokeDasharray: "4,3"}));
  gammas.forEach((g, i) => {
    marks.push(Plot.line(o.lines[i], {x: d => d[0], y: d => d[1], stroke: () => g, strokeWidth: 1.6, curve: "monotone-x", clip: true}));
    if (o.spikes && o.spikes[i]) marks.push(Plot.ruleX(o.spikes[i], {x: d => d[0], y1: d => d[1], y2: d => d[2], stroke: () => g, strokeWidth: 1.4, clip: true}));
  });
  if (o.res) {
    const rows = o.res.map((x, i) => ({x, t: o.resLabels[i]}));
    marks.push(Plot.text(rows.filter(d => d.x < 0), {x: "x", y: () => resLabelY, text: "t", textAnchor: "start", dx: o.resDx[0], fontSize: 15, fontFamily: FONT}));
    marks.push(Plot.text(rows.filter(d => d.x > 0), {x: "x", y: () => resLabelY, text: "t", textAnchor: "end", dx: o.resDx[1], fontSize: 15, fontFamily: FONT}));
  }
  const tk = "#333";
  marks.push(
    Plot.ruleX(xTicks, {x: d => d, y1: o.yDomain[0], y2: o.yDomain[0] + ty, stroke: tk}),
    Plot.ruleX(xTicks, {x: d => d, y1: o.yDomain[1] - ty, y2: o.yDomain[1], stroke: tk}),
    Plot.ruleY(o.yTicks, {y: d => d, x1: -5, x2: -5 + tx, stroke: tk}),
    Plot.ruleY(o.yTicks, {y: d => d, x1: 5 - tx, x2: 5, stroke: tk}),
    Plot.frame({stroke: "#222", strokeWidth: 1.2}),
    Plot.axisX({ticks: xTicks, tickSize: 0, tickPadding: 12, tickFormat: fmt, label: null, fontSize: 16, fontFamily: FONT}),
    Plot.axisY({ticks: o.yTicks, tickSize: 0, tickPadding: 11, tickFormat: fmt, label: null, fontSize: 16, fontFamily: FONT})
  );
  const svg = Plot.plot({
    width: o.width, height: o.height,
    marginTop: mt, marginRight: mr, marginBottom: mb, marginLeft: ml,
    x: {domain: [-5, 5]},
    y: {domain: o.yDomain},
    color: {type: "ordinal", domain: gammas, range: gammaColors},
    style: {fontFamily: FONT, fontSize: "16px", background: "transparent", overflow: "visible", color: "#000"},
    marks
  });
  const s = d3.select(svg);
  const t = s.append("text")
    .attr("transform", `translate(${o.titleX},${o.titleY}) rotate(-90)`)
    .attr("text-anchor", "middle").attr("font-family", FONT).attr("font-size", 27).attr("fill", "#000");
  t.append("tspan").text("log");
  t.append("tspan").attr("dy", 7).attr("font-size", 19).text("10");
  if (o.kind === "im") {
    t.append("tspan").attr("dy", -7).text("[|Im(k");
    t.append("tspan").attr("dy", 7).attr("font-size", 19).text("2");
    t.append("tspan").attr("dx", -9.5).attr("dy", -17).attr("font-size", 19).text("2");
    t.append("tspan").attr("dy", 10).text(")|]");
  } else {
    t.append("tspan").attr("dy", -7).text("[Q]");
  }
  if (o.xTitle) {
    s.append("text").attr("x", ml + (o.width - ml - mr) / 2).attr("y", o.height - 7)
      .attr("text-anchor", "middle")
      .attr("font-family", FONT).attr("font-size", 25).attr("fill", "#000").text("ω");
  }
  const div = document.createElement("div");
  div.className = "pnl";
  div.style.left = o.left + "px";
  div.style.top = o.top + "px";
  div.appendChild(svg);
  wrap.appendChild(div);
}

buildPanel({left: 0, top: 0, width: 500, height: 420, margin: [7, 13, 38, 73], yDomain: [-7, 2], yTicks: yTicksIm,
  lines: [tl_m8, tl_m7, tl_m6, tl_m5, tl_m4, tl_m3], res: tlRes, resLabels: tlResLabels, resDx: [4, -3],
  kind: "im", titleX: 31, titleY: 194});
buildPanel({left: 560, top: 0, width: 500, height: 420, margin: [7, 17, 38, 69], yDomain: [-7, 2], yTicks: yTicksIm,
  lines: [tr_m8, tr_m7, tr_m6, tr_m5, tr_m4, tr_m3], spikes: [tr_m8_spk, tr_m7_spk, tr_m6_spk],
  res: trRes, resLabels: trResLabels, resDx: [9, -7], kind: "im", titleX: 27, titleY: 194});
buildPanel({left: 0, top: 410, width: 500, height: 446, margin: [15, 13, 56, 73], yDomain: [-2, 7], yTicks: yTicksQ,
  lines: [bl_m8, bl_m7, bl_m6, bl_m5, bl_m4, bl_m3], kind: "q", titleX: 29, titleY: 203, xTitle: true});
buildPanel({left: 560, top: 410, width: 500, height: 446, margin: [15, 17, 56, 69], yDomain: [-2, 7], yTicks: yTicksQ,
  lines: [br_m8, br_m7, br_m6, br_m5, br_m4, br_m3], spikes: [br_m8_dip, br_m7_dip, br_m6_dip],
  kind: "q", titleX: 25, titleY: 203, xTitle: true});

// legend
const legendRowY = [30, 60, 90, 120, 151, 181];
const lg = d3.select(wrap).append("svg").attr("width", 130).attr("height", 210)
  .style("position", "absolute").style("left", "1070px").style("top", "0px");
gammas.forEach((g, i) => {
  lg.append("text").attr("x", 72).attr("y", legendRowY[i] + 9).attr("text-anchor", "end")
    .attr("font-family", FONT).attr("font-size", 21).attr("fill", "#000").text("γ = " + fmt(g));
  lg.append("line").attr("x1", 84).attr("x2", 128).attr("y1", legendRowY[i]).attr("y2", legendRowY[i])
    .attr("stroke", gammaColors[i]).attr("stroke-width", 2);
});
</script></body></html>
